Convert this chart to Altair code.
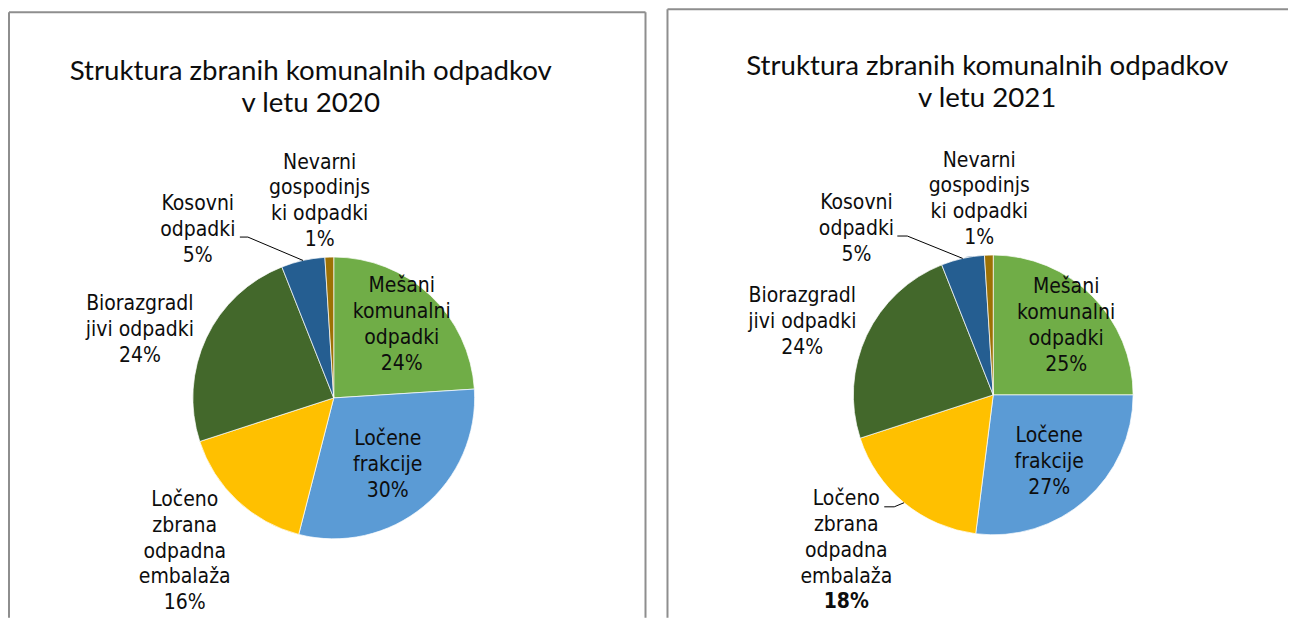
import math
import altair as alt
import pandas as pd

# ---------------- data ----------------
categories = [
    "Mešani komunalni odpadki",
    "Ločene frakcije",
    "Ločeno zbrana odpadna embalaža",
    "Biorazgradljivi odpadki",
    "Kosovni odpadki",
    "Nevarni gospodinjski odpadki",
]
label_names = [
    "Mešani\nkomunalni\nodpadki",
    "Ločene\nfrakcije",
    "Ločeno\nzbrana\nodpadna\nembalaža",
    "Biorazgradl\njivi odpadki",
    "Kosovni\nodpadki",
    "Nevarni\ngospodinjs\nki odpadki",
]
years = [2020, 2021]
values = {
    2020: [24, 30, 16, 24, 5, 1],
    2021: [25, 27, 18, 24, 5, 1],
}
bold_pct = {
    2020: [False, False, False, False, False, False],
    2021: [False, False, True, False, False, False],
}
title_line1 = "Struktura zbranih komunalnih odpadkov"
title_line2 = {2020: "v letu 2020", 2021: "v letu 2021"}

colors = ["#70AD47", "#5B9BD5", "#FFC000", "#43682B", "#255E91", "#9C7104"]

# ---------------- layout (not data) ----------------
PANEL_H = 610
LINE_H = 25.7
layout = {
    2020: dict(width=652, cx=326, cy=390, r=141, title_x=303, title_y=64,
               labels=[(43.0, 99.8), (141.1, 86.1), (224.1, 214.3),
                       (289.3, 205.6), (321.0, 216.2), (355.9, 197.5)],
               leaders={4: ((331.9, 182.5), 8)},
               box=dict(left=1, top=4, right=638)),
    2021: dict(width=629, cx=334, cy=387, r=140, title_x=328, title_y=59,
               labels=[(46.6, 100.4), (140.1, 87.3), (223.3, 214.4),
                       (290.9, 204.5), (320.5, 215.2), (355.9, 196.5)],
               leaders={4: ((331.6, 180.8), 10), 2: ((221.5, 149.5), 10)},
               box=dict(left=8, top=1, right=None)),
}

LABEL_FONT = "DejaVu Sans Condensed, DejaVu Sans"
TITLE_FONT = "Lato"
TEXT_COLOR = "#0d0d0d"
BORDER = "#8e8e8e"


def polar(cx, cy, ang, rad):
    a = math.radians(ang)
    return cx + rad * math.sin(a), cy - rad * math.cos(a)


def panel(year):
    L = layout[year]
    vals = values[year]
    n = len(vals)
    total = sum(vals)
    cx, cy = L["cx"], L["cy"]

    rows, lines, mids = [], [], []
    cum = 0.0
    for i in range(n):
        mid = (cum + vals[i] / 2) / total * 360
        cum += vals[i]
        mids.append(mid)
        rows.append(dict(cat=categories[i], idx=i, v=vals[i]))
        # label block: name lines + percentage line, centred on the anchor
        parts = label_names[i].split("\n") + [f"{vals[i]}%"]
        ax, ay = polar(cx, cy, *L["labels"][i])
        m = len(parts)
        for k, t in enumerate(parts):
            lines.append(dict(t=t, lx=ax, ly=ay + (k - (m - 1) / 2) * LINE_H,
                              bold=bool(bold_pct[year][i] and k == m - 1)))
    df = pd.DataFrame(rows)
    tx = pd.DataFrame(lines)

    # leader lines: tail -> elbow -> slice edge at mid-angle
    lrows = []
    for i, ((ea, er), tail) in L["leaders"].items():
        ex, ey = polar(cx, cy, ea, er)
        sx, sy = polar(cx, cy, mids[i], L["r"])
        for k, (px, py) in enumerate([(ex - tail, ey), (ex, ey), (sx, sy)]):
            lrows.append(dict(lid=str(i), k=k, px=px, py=py))
    ldf = pd.DataFrame(lrows)

    arcs = alt.Chart(df).mark_arc(outerRadius=L["r"], stroke="white", strokeWidth=0.7).encode(
        theta=alt.Theta("v:Q", stack=True),
        color=alt.Color("cat:N", scale=alt.Scale(domain=categories, range=colors), legend=None),
        order=alt.Order("idx:Q"),
        x=alt.value(cx), y=alt.value(cy),
    )

    def text_layer(weight, cond):
        return alt.Chart(tx).transform_filter(cond).mark_text(
            font=LABEL_FONT, fontSize=21, align="center", baseline="middle",
            color=TEXT_COLOR, fontWeight=weight,
        ).encode(
            x=alt.X("lx:Q", scale=None, axis=None),
            y=alt.Y("ly:Q", scale=None, axis=None),
            text="t:N",
        )

    labels = text_layer("normal", "!datum.bold")
    labels_bold = text_layer("bold", "datum.bold")

    leaders = alt.Chart(ldf).mark_line(color="#000000", strokeWidth=1).encode(
        x=alt.X("px:Q", scale=None, axis=None),
        y=alt.Y("py:Q", scale=None, axis=None),
        detail="lid:N", order="k:Q",
    )

    tdf = pd.DataFrame([dict(t=title_line1 + "\n" + title_line2[year])])
    title = alt.Chart(tdf).mark_text(
        font=TITLE_FONT, fontSize=27.7, lineBreak="\n", lineHeight=32,
        align="center", baseline="middle", color=TEXT_COLOR,
    ).encode(text="t:N", x=alt.value(L["title_x"]), y=alt.value(L["title_y"]))

    b = L["box"]
    right = b["right"] if b["right"] is not None else L["width"]
    border_parts = [
        alt.Chart(tdf).mark_rule(color=BORDER, strokeWidth=2).encode(
            x=alt.value(b["left"]), y=alt.value(b["top"]), y2=alt.value(PANEL_H)),
        alt.Chart(tdf).mark_rule(color=BORDER, strokeWidth=2).encode(
            x=alt.value(b["left"]), x2=alt.value(right), y=alt.value(b["top"])),
    ]
    if b["right"] is not None:
        border_parts.append(
            alt.Chart(tdf).mark_rule(color=BORDER, strokeWidth=2).encode(
                x=alt.value(b["right"]), y=alt.value(b["top"]), y2=alt.value(PANEL_H)))

    return alt.layer(*border_parts, title, arcs, leaders, labels, labels_bold).properties(
        width=L["width"], height=PANEL_H
    )


chart = alt.hconcat(panel(2020), panel(2021), spacing=0).properties(
    padding=0
).configure_view(stroke=None)

chart.save("out.html", embed_options={"renderer": "svg", "actions": False})
